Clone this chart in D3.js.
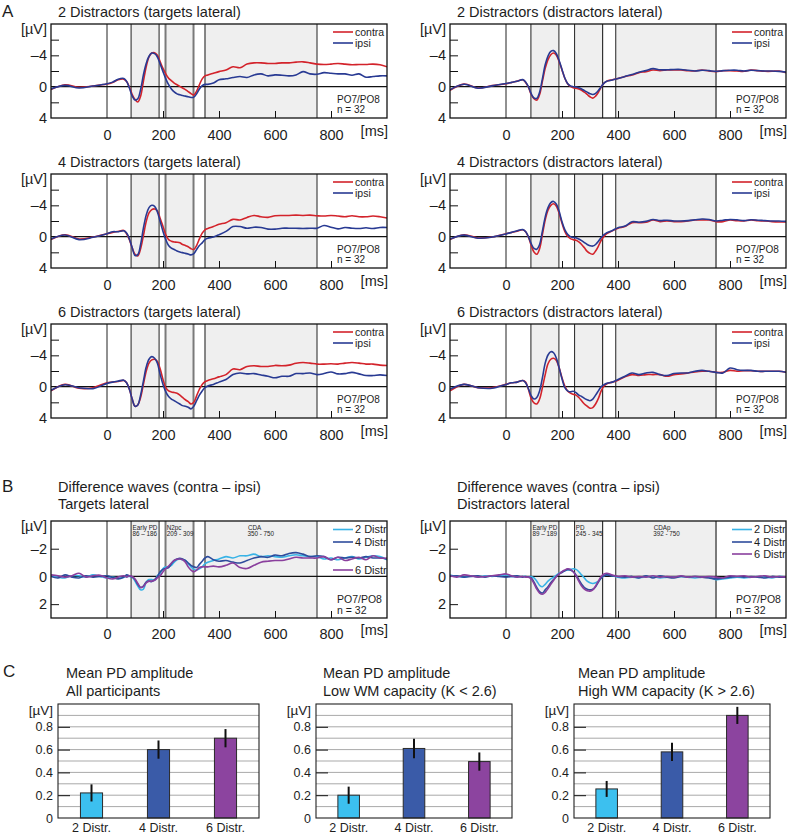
<!DOCTYPE html>
<html><head><meta charset="utf-8">
<script src="https://cdn.jsdelivr.net/npm/d3@7"></script>
<style>body{margin:0;background:#fff}svg{display:block}</style>
</head><body><svg id="c" width="788" height="835"></svg>
<script>
// ---------- DATA ----------
const tA = [-200,-150,-100,-50,0,20,40,60,70,80,90,100,110,120,130,140,150,160,170,180,190,200,210,220,230,240,250,260,270,280,290,300,310,320,330,340,350,360,380,400,425,450,475,500,525,550,575,600,625,650,675,700,725,750,775,800,825,850,875,900,925,950,975,1000];
const tB = [-200,-175,-150,-125,-100,-75,-50,-25,0,20,40,60,70,80,90,100,110,120,130,140,150,160,170,180,190,200,210,220,230,240,250,260,270,280,290,300,310,320,330,340,350,360,380,400,425,450,475,500,525,550,575,600,625,650,675,700,725,750,775,800,825,850,875,900,925,950,975,1000];

const contra2T = [0.38,-0.25,0.08,-0.08,-0.33,-0.54,-0.88,-0.96,-0.67,0.04,1.0,1.63,1.96,1.21,-0.67,-2.54,-3.79,-4.29,-4.33,-4.0,-3.17,-2.33,-1.63,-1.08,-0.75,-0.46,-0.25,-0.04,0.17,0.38,0.63,0.88,1.08,0.58,-0.25,-1.0,-1.38,-1.5,-1.71,-1.92,-2.13,-2.54,-2.42,-2.88,-3.04,-3.04,-2.96,-2.96,-3.04,-3.04,-3.13,-3.17,-3.04,-2.88,-2.83,-2.88,-2.96,-2.88,-2.79,-2.83,-2.83,-2.88,-2.79,-2.54];
const ipsi2T = [0.29,-0.17,0.17,-0.08,-0.38,-0.58,-0.96,-1.04,-0.67,0.17,1.21,1.71,1.54,0.38,-1.5,-2.96,-3.88,-4.29,-4.21,-3.79,-2.88,-1.92,-1.0,-0.25,0.29,0.67,0.92,1.04,1.13,1.21,1.29,1.38,1.33,0.92,0.29,-0.13,-0.29,-0.29,-0.46,-0.88,-1.0,-1.17,-1.29,-1.17,-1.5,-1.63,-1.38,-1.5,-1.46,-1.38,-1.5,-1.92,-1.63,-1.58,-1.79,-1.71,-1.63,-1.63,-1.46,-1.63,-1.21,-1.29,-1.38,-1.38];
const contra2D = [0.46,-0.33,0.17,-0.13,-0.38,-0.54,-0.71,-0.88,-0.54,0.04,1.0,1.54,1.71,1.0,-0.67,-2.33,-3.46,-4.08,-4.29,-4.0,-3.17,-2.13,-1.08,-0.38,-0.04,0.13,0.21,0.29,0.46,0.71,1.0,1.29,1.46,1.21,0.71,0.04,-0.46,-0.71,-0.88,-1.04,-1.29,-1.5,-1.79,-1.92,-2.13,-2.04,-2.13,-2.13,-2.13,-2.04,-2.0,-2.13,-2.0,-1.92,-2.04,-2.04,-2.0,-1.96,-2.13,-2.04,-1.96,-1.96,-2.0,-1.79];
const ipsi2D = [0.4,-0.3,0.2,-0.1,-0.4,-0.55,-0.7,-0.9,-0.6,0.0,0.9,1.45,1.5,0.7,-1.0,-2.8,-3.9,-4.5,-4.6,-4.2,-3.3,-2.2,-1.1,-0.4,-0.1,0.0,0.05,0.15,0.3,0.5,0.7,0.9,1.0,0.85,0.5,0.0,-0.45,-0.7,-0.85,-1.05,-1.3,-1.55,-1.85,-2.05,-2.3,-2.15,-2.15,-2.2,-2.2,-2.1,-2.0,-2.1,-2.05,-1.95,-2.05,-2.1,-2.1,-2.0,-2.1,-2.05,-2.0,-2.0,-1.95,-1.85];
const contra4T = [0.38,-0.25,0.29,0.04,-0.38,-0.54,-0.67,-0.79,-0.38,0.38,1.42,2.25,2.46,1.54,-0.13,-1.92,-3.04,-3.46,-3.54,-3.29,-2.33,-1.29,-0.25,0.38,0.58,0.67,0.71,0.79,1.0,1.13,1.29,1.54,1.63,1.13,0.29,-0.46,-0.88,-1.04,-1.29,-1.58,-1.79,-2.21,-2.13,-2.46,-2.71,-2.54,-2.46,-2.67,-2.71,-2.71,-2.75,-2.71,-2.75,-2.67,-2.63,-2.71,-2.63,-2.54,-2.67,-2.54,-2.54,-2.63,-2.54,-2.38];
const ipsi4T = [0.29,-0.21,0.38,0.08,-0.38,-0.63,-0.63,-0.75,-0.46,0.29,1.42,2.4,2.3,1.0,-1.08,-2.75,-3.71,-4.0,-3.88,-3.17,-1.92,-0.67,0.38,1.13,1.46,1.63,1.83,1.96,2.04,2.13,2.21,2.33,2.17,1.63,1.13,0.79,0.38,0.21,0.04,-0.25,-0.67,-1.29,-1.29,-1.08,-1.21,-1.17,-0.96,-0.96,-1.08,-1.08,-1.08,-1.04,-1.08,-1.08,-1.42,-1.21,-1.0,-1.17,-1.08,-1.04,-1.13,-1.04,-1.17,-1.17];
const contra4D = [0.38,-0.25,0.17,0.04,-0.38,-0.54,-0.71,-0.88,-0.63,0.04,1.13,1.96,2.25,1.54,-0.25,-2.13,-3.38,-4.0,-4.21,-3.88,-2.96,-1.71,-0.67,-0.04,0.25,0.38,0.46,0.67,1.0,1.42,1.88,2.13,2.25,1.83,1.21,0.46,-0.04,-0.38,-0.75,-1.08,-1.29,-1.79,-1.79,-1.83,-2.13,-1.92,-2.0,-1.92,-1.92,-2.0,-2.13,-2.13,-2.13,-1.92,-1.92,-2.13,-2.04,-2.0,-2.13,-2.04,-2.0,-1.92,-1.88,-1.88];
const ipsi4D = [0.3,-0.2,0.2,0.05,-0.35,-0.55,-0.75,-0.9,-0.65,0.0,0.9,1.5,1.6,1.0,-0.7,-2.5,-3.7,-4.35,-4.5,-4.15,-3.2,-1.9,-0.9,-0.3,0.0,0.1,0.15,0.3,0.5,0.75,1.0,1.15,1.2,1.0,0.6,0.1,-0.25,-0.5,-0.8,-1.15,-1.35,-1.9,-1.85,-1.95,-2.2,-2.05,-2.1,-2.0,-2.0,-2.05,-2.15,-2.25,-2.2,-2.0,-2.1,-2.2,-2.15,-2.05,-2.15,-2.1,-2.05,-2.0,-2.0,-1.95];
const contra6T = [0.54,-0.29,0.21,0.13,-0.5,-0.58,-0.67,-0.79,-0.5,0.33,1.58,2.5,2.33,1.38,-0.29,-1.96,-3.0,-3.42,-3.5,-3.21,-2.25,-0.92,0.13,0.54,0.67,0.75,0.83,1.08,1.38,1.67,1.92,2.21,2.0,1.17,0.33,-0.29,-0.63,-0.79,-1.0,-1.25,-1.54,-2.25,-2.17,-2.58,-2.67,-2.58,-2.58,-2.71,-2.67,-2.75,-3.0,-3.08,-3.0,-2.88,-2.88,-2.92,-2.88,-3.0,-3.08,-3.0,-2.88,-2.88,-2.75,-2.71];
const ipsi6T = [0.46,-0.25,0.13,0.25,-0.42,-0.58,-0.71,-0.83,-0.5,0.33,1.58,2.5,2.33,1.08,-0.71,-2.5,-3.5,-3.83,-3.63,-3.0,-1.54,-0.29,0.67,1.25,1.58,1.79,2.0,2.21,2.42,2.5,2.63,2.83,2.5,1.79,1.08,0.54,0.13,-0.08,-0.29,-0.58,-0.92,-1.54,-1.75,-1.63,-1.67,-1.5,-1.33,-1.13,-1.33,-1.33,-1.67,-1.67,-1.75,-1.54,-1.67,-1.88,-1.63,-1.67,-1.83,-1.63,-1.42,-1.42,-1.5,-1.42];
const contra6D = [0.54,-0.29,0.13,0.13,-0.29,-0.5,-0.58,-0.79,-0.58,0.33,1.5,2.08,2.21,1.58,0.13,-1.54,-2.92,-3.5,-3.63,-3.33,-2.38,-1.13,-0.08,0.54,0.83,0.96,1.08,1.38,1.79,2.21,2.5,2.75,2.67,2.21,1.5,0.54,-0.08,-0.38,-0.58,-0.83,-1.25,-1.54,-1.42,-1.54,-1.54,-1.54,-1.33,-1.54,-1.63,-1.75,-1.88,-1.96,-1.96,-1.83,-1.83,-2.08,-1.96,-2.04,-2.04,-1.96,-1.96,-1.96,-1.96,-1.83];
const ipsi6D = [0.33,-0.29,0.13,0.21,-0.29,-0.5,-0.58,-0.79,-0.5,0.25,1.17,1.58,1.38,0.54,-1.13,-3.0,-4.04,-4.46,-4.33,-3.63,-2.38,-1.0,0.13,0.54,0.67,0.58,0.75,1.08,1.25,1.5,1.67,1.79,1.58,1.08,0.54,0.0,-0.25,-0.42,-0.58,-0.92,-1.33,-1.75,-1.54,-1.75,-1.83,-1.54,-1.42,-1.67,-1.75,-1.75,-1.96,-2.08,-1.96,-1.83,-1.75,-2.38,-2.17,-2.08,-2.08,-1.96,-1.96,-1.96,-1.96,-1.83];

const diffT2 = [-0.05,0.05,0.11,-0.05,-0.05,0.05,-0.11,0,0.11,0.05,0.11,0.07,0,0,0.05,0.34,0.69,0.97,0.92,0.41,0.23,0.23,0.28,-0.05,-0.23,-0.57,-0.69,-0.69,-0.8,-1.03,-1.2,-1.26,-1.2,-1.15,-0.92,-0.69,-0.51,-0.46,-0.55,-0.69,-0.92,-1.03,-1.15,-1.26,-1.43,-1.33,-1.49,-1.49,-1.61,-1.43,-1.49,-1.43,-1.38,-1.49,-1.56,-1.49,-1.43,-1.43,-1.26,-1.33,-1.2,-1.33,-1.43,-1.26,-1.38,-1.49,-1.43,-1.2];
const diffT4 = [0,0.11,-0.11,0.05,0.11,-0.05,0.05,0,-0.05,0.07,0.18,0.05,-0.11,-0.05,0.05,0.23,0.57,0.8,0.69,0.41,0.34,0.37,0.23,0,-0.34,-0.51,-0.57,-0.64,-0.92,-1.15,-1.26,-1.31,-1.26,-1.15,-0.97,-0.8,-0.69,-0.64,-0.87,-1.1,-1.33,-1.43,-1.2,-1.1,-1.15,-1.03,-0.97,-1.15,-1.33,-1.43,-1.38,-1.54,-1.49,-1.66,-1.72,-1.61,-1.43,-1.49,-1.43,-1.2,-1.38,-1.33,-1.38,-1.33,-1.43,-1.33,-1.33,-1.26];
const diffT6 = [-0.11,-0.05,0.05,-0.05,-0.23,0.05,-0.05,-0.09,0.11,0.18,0.05,-0.05,0.05,-0.05,0,0.18,0.51,0.8,0.74,0.46,0.34,0.34,0.28,0.11,-0.05,-0.34,-0.57,-0.74,-0.97,-1.15,-1.24,-1.26,-1.2,-1.03,-0.69,-0.46,-0.34,-0.46,-0.64,-0.69,-0.69,-0.69,-0.74,-0.69,-0.8,-0.97,-0.64,-0.57,-0.8,-1.03,-1.1,-1.15,-1.15,-1.26,-1.38,-1.33,-1.33,-1.33,-1.43,-1.2,-1.38,-1.15,-1.26,-1.38,-1.2,-1.49,-1.33,-1.33];
const diffD2 = [-0.11,0,0.05,-0.05,0.05,-0.05,0,-0.05,-0.11,0,0.05,0,0,0.05,0,0.11,0.34,0.64,0.74,0.57,0.34,0.18,0.05,-0.09,-0.23,-0.34,-0.41,-0.46,-0.51,-0.55,-0.51,-0.34,-0.11,0.11,0.34,0.46,0.51,0.46,0.34,0.11,-0.05,-0.11,-0.05,0.05,0.11,0.05,0.09,0.05,0,0.11,0.05,0.05,0,0.05,0.11,0.05,0.05,0.23,0.18,0.11,0.05,0.11,0.05,0,0.05,0.11,0,0.05];
const diffD4 = [0,-0.05,0.05,0,-0.05,0.05,-0.05,0,0.05,0,-0.05,0.05,0,0.05,0.11,0.41,0.8,1.1,1.2,0.97,0.74,0.46,0.23,0,-0.18,-0.28,-0.41,-0.51,-0.46,-0.34,-0.11,0.23,0.57,0.8,0.92,0.97,0.92,0.74,0.41,0.11,-0.05,-0.11,-0.05,0,0.05,0,0.11,-0.05,0.11,-0.05,0.05,0.11,0,0.05,0,0.05,0.11,0.18,0.11,0.05,0,0.05,0,0.05,0.11,0,0.05,0.05];
const diffD6 = [-0.05,0.05,-0.11,-0.05,0.05,0,-0.05,-0.11,-0.18,-0.05,0.05,0,0.05,0.05,0.18,0.51,0.92,1.2,1.29,1.15,0.87,0.57,0.28,0,-0.18,-0.34,-0.46,-0.55,-0.51,-0.34,-0.05,0.34,0.69,0.92,1.03,1.06,0.97,0.69,0.34,0,-0.18,-0.23,-0.11,0,-0.05,0.05,0,0.05,-0.05,0.05,0,0.05,-0.05,0.05,0,0.05,0,0.05,0.11,-0.05,0,-0.05,0.05,0,-0.05,0.05,0,0.05];

const winTargets = [[86,186],[209,309],[350,750]];
const winDistr = [[89,189],[245,345],[392,750]];
const xTickLabels = [0,200,400,600,800];
const xTickMarks = [200,400,600,800];
const yLabelsA = [-4,0,4], yMinorA = [-6,-4,-2,2];
const yLabelsB = [-2,0,2], yMinorB = [-2,2];

const barCats = ["2 Distr.","4 Distr.","6 Distr."];
const pdAll = [0.22,0.60,0.70], pdAllErr = [0.075,0.08,0.08];
const pdLow = [0.20,0.61,0.495], pdLowErr = [0.075,0.085,0.08];
const pdHigh = [0.255,0.58,0.90], pdHighErr = [0.07,0.08,0.075];
const barTicks = [0,0.2,0.4,0.6,0.8];
const barGrid = [0.1,0.2,0.3,0.4,0.5,0.6,0.7,0.8,0.9];

// ---------- DRAWING ----------
const FONT = '"Liberation Sans", Arial, Helvetica, sans-serif';
const TXT = "#1d1d1d";
const RED = "#d3232b", BLUE = "#283a93";
const C2 = "#38b3e6", C4 = "#2e4c9c", C6 = "#8a3f9d";
const BAR2 = "#3cc0ef", BAR4 = "#3a5ba8", BAR6 = "#8c449f";
const svg = d3.select("#c");
const fmt = d => d < 0 ? "\u2013" + Math.abs(d) : String(d);
let clipId = 0;

function txt(x, y, s, size, anchor) {
  return svg.append("text").attr("x", x).attr("y", y).text(s)
    .attr("font-family", FONT).attr("font-size", size).attr("fill", TXT)
    .attr("text-anchor", anchor || "start");
}

function vlinesFor(type) {
  if (type === "T") return [
    {t:0,c:"#222",w:1},{t:86,c:"#222",w:1},{t:186,c:"#222",w:1},
    {t:209,c:"#7a7a7a",w:2},{t:309,c:"#7a7a7a",w:2},{t:350,c:"#555",w:1.4},{t:750,c:"#222",w:1}];
  return [
    {t:0,c:"#222",w:1},{t:89,c:"#222",w:1},{t:189,c:"#222",w:1},
    {t:245,c:"#222",w:1},{t:345,c:"#333",w:1.2},{t:392,c:"#222",w:1},{t:750,c:"#7a7a7a",w:2}];
}

function erp(cfg) {
  const g = svg.append("g");
  const x = d3.scaleLinear().domain([-200,1000]).range([cfg.x0,cfg.x1]);
  const y = d3.scaleLinear().domain(cfg.yDom).range([cfg.y1,cfg.y0]);
  const id = "clip" + (clipId++);
  g.append("clipPath").attr("id", id).append("rect")
    .attr("x", cfg.x0).attr("y", cfg.y0).attr("width", cfg.x1-cfg.x0).attr("height", cfg.y1-cfg.y0);
  g.selectAll("rect.win").data(cfg.windows).join("rect").attr("class","win")
    .attr("x", d => x(d[0])).attr("width", d => x(d[1]) - x(d[0]))
    .attr("y", cfg.y0).attr("height", cfg.y1 - cfg.y0).attr("fill", "#efefef");
  g.selectAll("line.v").data(vlinesFor(cfg.type)).join("line").attr("class","v")
    .attr("x1", d => x(d.t)).attr("x2", d => x(d.t)).attr("y1", cfg.y0).attr("y2", cfg.y1)
    .attr("stroke", d => d.c).attr("stroke-width", d => d.w);
  g.append("line").attr("x1", cfg.x0).attr("x2", cfg.x1).attr("y1", y(0)).attr("y2", y(0))
    .attr("stroke", "#111").attr("stroke-width", 1.2);
  g.append("g").attr("transform", `translate(${cfg.x0},0)`)
    .call(d3.axisLeft(y).tickValues(cfg.yMinor).tickSize(-8).tickFormat(""))
    .call(a => a.select(".domain").remove())
    .selectAll("line").attr("stroke", "#111").attr("stroke-width", 1);
  g.append("g").attr("transform", `translate(0,${cfg.y1})`)
    .call(d3.axisBottom(x).tickValues(xTickMarks).tickSize(-7).tickFormat(""))
    .call(a => a.select(".domain").remove())
    .selectAll("line").attr("stroke", "#111").attr("stroke-width", 1);
  g.append("g").attr("transform", `translate(${cfg.x0},0)`)
    .call(d3.axisLeft(y).tickValues(cfg.yLab).tickSize(0).tickPadding(4).tickFormat(fmt))
    .call(a => a.select(".domain").remove())
    .attr("font-size", 14.5).attr("font-family", FONT)
    .selectAll("text").attr("fill", TXT);
  g.append("g").attr("transform", `translate(0,${cfg.y1})`)
    .call(d3.axisBottom(x).tickValues(xTickLabels).tickSize(0).tickPadding(cfg.xPad).tickFormat(d3.format("d")))
    .call(a => a.select(".domain").remove())
    .attr("font-size", 14.5).attr("font-family", FONT)
    .selectAll("text").attr("fill", TXT);
  const line = d3.line().x(d => x(d[0])).y(d => y(d[1])).curve(d3.curveCatmullRom.alpha(0.5));
  const cg = g.append("g").attr("clip-path", `url(#${id})`);
  cfg.series.forEach(s => {
    const n = Math.min(s.t.length, s.v.length);
    const pts = d3.range(n).map(i => [s.t[i], s.v[i]]);
    cg.append("path").datum(pts).attr("d", line).attr("fill", "none")
      .attr("stroke", s.c).attr("stroke-width", 1.6).attr("stroke-linejoin", "round");
  });
  g.append("rect").attr("x", cfg.x0).attr("y", cfg.y0).attr("width", cfg.x1 - cfg.x0).attr("height", cfg.y1 - cfg.y0)
    .attr("fill", "none").attr("stroke", "#111").attr("stroke-width", 1.3);
  txt(cfg.x0 - 4, cfg.y0 + 10, "[\u00b5V]", 14.5, "end");
  txt(cfg.x1 + 1, cfg.y1 + cfg.msDy, "[ms]", 14.5, "end");
  cfg.series.forEach((s, i) => {
    const ly = cfg.y0 + cfg.legY[i];
    g.append("line").attr("x1", cfg.x1 - 54).attr("x2", cfg.x1 - 34).attr("y1", ly).attr("y2", ly)
      .attr("stroke", s.c).attr("stroke-width", 1.6);
    txt(cfg.x1 - 32, ly + 3.7, s.name, cfg.legSize, "start");
  });
  txt(cfg.x1 - 50, cfg.y1 - cfg.poDy[0], "PO7/PO8", cfg.poSize, "start");
  txt(cfg.x1 - 50, cfg.y1 - cfg.poDy[1], "n = 32", cfg.poSize, "start");
  (cfg.winLabels || []).forEach(w => {
    txt(x(w.t) + w.dx, cfg.y0 + 8.5, w.a, 6.3, "start");
    txt(x(w.t) + w.dx2, cfg.y0 + 15.3, w.b, 6.3, "start");
  });
  return {x, y};
}

txt(2, 16.5, "A", 17);
txt(2, 492, "B", 17);
txt(3, 677, "C", 17);

const colL = {x0: 51, x1: 387}, colR = {x0: 450, x1: 786};
const rowsA = [
  {y0: 24, y1: 118, n: "2", tT: contra2T, iT: ipsi2T, tD: contra2D, iD: ipsi2D},
  {y0: 174, y1: 268, n: "4", tT: contra4T, iT: ipsi4T, tD: contra4D, iD: ipsi4D},
  {y0: 324, y1: 418, n: "6", tT: contra6T, iT: ipsi6T, tD: contra6D, iD: ipsi6D}
];
rowsA.forEach(r => {
  txt(58, r.y0 - 7, r.n + " Distractors (targets lateral)", 14.5);
  txt(457, r.y0 - 7, r.n + " Distractors (distractors lateral)", 14.5);
  const common = {y0: r.y0, y1: r.y1, yDom: [4,-8], yLab: yLabelsA, yMinor: yMinorA,
    xPad: 12, msDy: 18, legY: [8, 19], legSize: 10.5, poSize: 10, poDy: [15, 5]};
  erp(Object.assign({}, common, colL, {type: "T", windows: winTargets,
    series: [{name:"contra", t:tA, v:r.tT, c:RED}, {name:"ipsi", t:tA, v:r.iT, c:BLUE}]}));
  erp(Object.assign({}, common, colR, {type: "D", windows: winDistr,
    series: [{name:"contra", t:tA, v:r.tD, c:RED}, {name:"ipsi", t:tA, v:r.iD, c:BLUE}]}));
});

txt(58, 492, "Difference waves (contra \u2013 ipsi)", 14.5);
txt(58, 509, "Targets lateral", 14.5);
txt(457, 492, "Difference waves (contra \u2013 ipsi)", 14.5);
txt(457, 509, "Distractors lateral", 14.5);
const commonB = {y0: 521, y1: 618, yDom: [3,-4], yLab: yLabelsB, yMinor: yMinorB,
  xPad: 11, msDy: 16.5, legSize: 11, poSize: 10.5, poDy: [15.5, 4.5]};
erp(Object.assign({}, commonB, colL, {type: "T", windows: winTargets, legY: [8.5, 21, 49],
  series: [{name:"2 Distr", t:tB, v:diffT2, c:C2}, {name:"4 Distr", t:tB, v:diffT4, c:C4}, {name:"6 Distr", t:tB, v:diffT6, c:C6}],
  winLabels: [{t:86, dx:1.5, dx2:1.5, a:"Early PD", b:"86 \u2013 186"},
              {t:209, dx:1.3, dx2:1.3, a:"N2pc", b:"209 - 309"},
              {t:350, dx:43, dx2:42.5, a:"CDA", b:"350 - 750"}]}));
erp(Object.assign({}, commonB, colR, {type: "D", windows: winDistr, legY: [8.5, 21, 33],
  series: [{name:"2 Distr", t:tB, v:diffD2, c:C2}, {name:"4 Distr", t:tB, v:diffD4, c:C4}, {name:"6 Distr", t:tB, v:diffD6, c:C6}],
  winLabels: [{t:89, dx:1.5, dx2:1.5, a:"Early PD", b:"89 \u2013 189"},
              {t:245, dx:1.2, dx2:1.2, a:"PD", b:"245 - 345"},
              {t:392, dx:38, dx2:37.5, a:"CDAp", b:"392 - 750"}]}));

function bars(cfg) {
  const g = svg.append("g");
  const x = d3.scaleBand().domain(barCats).range([cfg.x0, cfg.x1]).paddingInner(0.67).paddingOuter(0.335);
  const y = d3.scaleLinear().domain([0,1]).range([cfg.y1, cfg.y0]);
  txt(cfg.tx, 678, "Mean PD amplitude", 14.5);
  txt(cfg.tx, 696, cfg.sub, 14.5);
  g.selectAll("line.grid").data(barGrid).join("line").attr("class","grid")
    .attr("x1", cfg.x0).attr("x2", cfg.x1).attr("y1", d => y(d)).attr("y2", d => y(d))
    .attr("stroke", "#a9a9a9").attr("stroke-width", 1);
  g.append("g").attr("transform", `translate(${cfg.x0},0)`)
    .call(d3.axisLeft(y).tickValues(barTicks.slice(1)).tickSize(-12).tickFormat(""))
    .call(a => a.select(".domain").remove())
    .selectAll("line").attr("stroke", "#111");
  g.append("g").attr("transform", `translate(${cfg.x0},0)`)
    .call(d3.axisLeft(y).tickValues(barTicks).tickSize(0).tickPadding(5).tickFormat(d => d === 0 ? "0" : d3.format(".1f")(d)))
    .call(a => a.select(".domain").remove())
    .attr("font-size", 12.5).attr("font-family", FONT)
    .selectAll("text").attr("fill", TXT);
  const cols = [BAR2, BAR4, BAR6];
  g.selectAll("rect.bar").data(cfg.vals).join("rect").attr("class","bar")
    .attr("x", (d,i) => x(barCats[i])).attr("width", x.bandwidth())
    .attr("y", d => y(d)).attr("height", d => y(0) - y(d))
    .attr("fill", (d,i) => cols[i]).attr("stroke", "#2a2a2a").attr("stroke-width", 1);
  g.selectAll("line.err").data(cfg.vals).join("line").attr("class","err")
    .attr("x1", (d,i) => x(barCats[i]) + x.bandwidth()/2).attr("x2", (d,i) => x(barCats[i]) + x.bandwidth()/2)
    .attr("y1", (d,i) => y(d + cfg.errs[i])).attr("y2", (d,i) => y(d - cfg.errs[i]))
    .attr("stroke", "#111").attr("stroke-width", 2);
  g.append("rect").attr("x", cfg.x0).attr("y", cfg.y0).attr("width", cfg.x1 - cfg.x0).attr("height", cfg.y1 - cfg.y0)
    .attr("fill", "none").attr("stroke", "#222").attr("stroke-width", 1.1);
  txt(cfg.x0 - 5, cfg.y0 + 11, "[\u00b5V]", 13.5, "end");
  barCats.forEach(c => txt(x(c) + x.bandwidth()/2, 831.5, c, 12.5, "middle"));
}
bars({x0: 58, x1: 259, y0: 704, y1: 818, tx: 66, sub: "All participants", vals: pdAll, errs: pdAllErr});
bars({x0: 316, x1: 512, y0: 704, y1: 818, tx: 323, sub: "Low WM capacity (K < 2.6)", vals: pdLow, errs: pdLowErr});
bars({x0: 574, x1: 770, y0: 704, y1: 818, tx: 578, sub: "High WM capacity (K > 2.6)", vals: pdHigh, errs: pdHighErr});
</script></body></html>
